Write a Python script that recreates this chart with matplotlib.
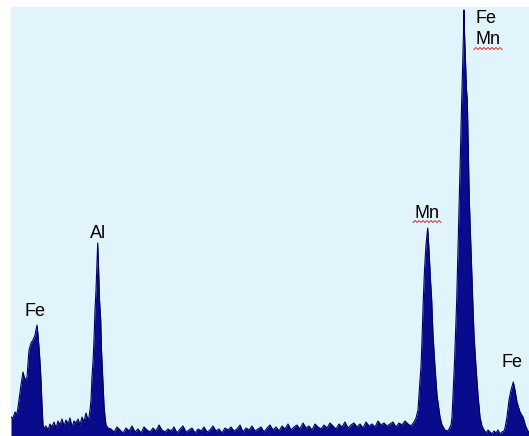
import matplotlib
matplotlib.use("Agg")
import matplotlib.pyplot as plt
import numpy as np

# EDS spectrum (channel ~ 1 px, counts in arbitrary units)
# Fe L peak and background after it
ch_feL = [0, 2, 4, 6, 8, 10, 12, 14, 16, 18, 20, 22, 24, 25, 26, 27, 28, 29, 30, 31, 32, 33,
          35, 37, 39, 41, 43, 45, 47, 49, 51, 53, 55, 57, 59, 61, 63, 65, 67, 69, 71, 73, 75, 77]
ct_feL = [19, 18, 24, 22, 36, 51, 64, 56, 59, 86, 93, 96, 101, 106, 111, 101, 89, 74, 56, 31, 11, 8,
          10, 6, 12, 9, 14, 8, 15, 11, 17, 10, 16, 12, 18, 9, 15, 13, 17, 11, 19, 14, 23, 16]
# Al K peak
ch_al = [78, 79, 80, 81, 82, 83, 84, 85, 86, 86.7, 87.5, 88.5, 89.7, 90.5, 91.7, 93, 94, 95, 97]
ct_al = [19, 26, 36, 59, 74, 96, 126, 146, 174, 193, 171, 136, 116, 86, 59, 31, 19, 11, 8]
# background between Al and Mn (every 3 channels from 100 to 403)
ch_bg = list(range(100, 404, 3))
ct_bg = [7, 4, 9, 6, 3, 8, 5, 10, 4, 7, 3, 9, 6, 4, 8, 5, 11, 6, 4, 7,
         5, 9, 3, 7, 10, 4, 6, 8, 3, 7, 5, 9, 4, 6, 10, 5, 7, 3, 8, 6,
         9, 5, 7, 11, 4, 8, 6, 10, 5, 7, 9, 4, 8, 11, 6, 9, 5, 10, 7, 12,
         6, 9, 11, 7, 13, 8, 10, 6, 12, 9, 7, 11, 8, 13, 10, 7, 12, 9, 14, 8,
         11, 13, 9, 12, 8, 14, 10, 12, 9, 15, 11, 13, 10, 12, 14, 9, 13, 11, 15, 12,
         10, 14]
# Mn K-alpha
ch_mn = [405, 407, 409, 410, 411, 412.3, 413.5, 415, 416.7, 418, 419.5, 420.7, 422, 424, 426,
         429, 431, 434, 437]
ct_mn = [18, 26, 56, 69, 96, 136, 166, 191, 208, 186, 156, 136, 101, 69, 41, 19, 11, 6, 5]
# Fe K-alpha / Mn K-beta
ch_fe = [440, 441, 442, 443.3, 444.5, 445.7, 447, 448.3, 449.5, 450.7, 451.8, 452.5, 453, 453.5,
         454.5, 455.5, 456.3, 457.3, 458.3, 460, 461.7, 463, 465, 467, 469, 471, 473, 475, 477,
         479, 481, 483, 485, 487, 489, 491, 493]
ct_fe = [11, 19, 41, 69, 101, 136, 186, 236, 286, 336, 376, 403, 426, 403,
         376, 346, 336, 286, 236, 186, 136, 101, 69, 41, 19, 10, 6, 3, 6, 4, 2, 5, 3, 6, 2, 4, 5]
# Fe K-beta
ch_fekb = [494, 496, 498, 500, 502.3, 504, 506, 509, 512, 515, 518]
ct_fekb = [8, 19, 36, 46, 54, 46, 34, 24, 19, 9, 3]

channel = ch_feL + ch_al + ch_bg + ch_mn + ch_fe + ch_fekb
counts = ct_feL + ct_al + ct_bg + ct_mn + ct_fe + ct_fekb

labels = ["Fe", "Al", "Mn", "Fe", "Mn", "Fe"]
label_ch = [24, 87, 416, 475, 477, 501]
label_cnt = [124, 203, 223, 417, 396, 74]
underlined = [False, False, True, False, True, False]

W, H = 529, 436
fig = plt.figure(figsize=(W / 100, H / 100), dpi=100, facecolor="white")
ax = fig.add_axes([11 / W, 0, 518 / W, 429 / H])
ax.set_facecolor("#e1f3fb")
ax.fill_between(channel, counts, 0, color="#0a0a8c", linewidth=0)
ax.plot(channel, counts, color="#000060", lw=0.8)
ax.set_xlim(0, 518)
ax.set_ylim(0, 429)
for s in ax.spines.values():
    s.set_visible(False)
ax.set_xticks([])
ax.set_yticks([])

for t, x, y, u in zip(labels, label_ch, label_cnt, underlined):
    ax.text(x, y, t, ha="center", va="center", fontsize=13,
            family=["Liberation Sans", "DejaVu Sans"], color="black")
    if u:
        xs = np.linspace(x - 14, x + 14, 15)
        ys = y - 9.5 + 2.0 * (np.arange(15) % 2)
        ax.plot(xs, ys, color="#e03030", lw=0.7)

fig.savefig("out.png", dpi=100)
